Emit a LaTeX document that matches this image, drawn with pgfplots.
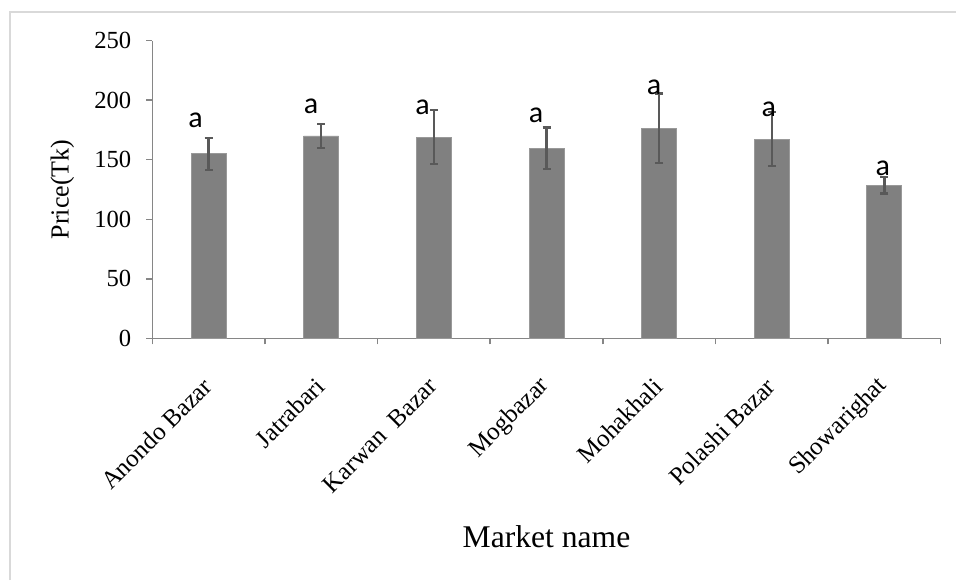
\documentclass[border=0pt]{standalone}
\usepackage{fontspec}
\setmainfont{Liberation Serif}
\newfontfamily\calibri{Carlito}
\usepackage{pgfplots}
\pgfplotsset{compat=1.18}
\definecolor{barfill}{HTML}{808080}
\definecolor{baredge}{HTML}{999999}
\definecolor{errcol}{HTML}{595959}
\definecolor{axiscol}{HTML}{868686}
\definecolor{framecol}{HTML}{D9D9D9}

\begin{document}
\begin{tikzpicture}
\useasboundingbox (0,0) rectangle (478pt,290pt);
\fill[white] (0,0) rectangle (478pt,290pt);
\draw[framecol, line width=1pt] (5pt,0) -- (5pt,284pt) -- (478pt,284pt);
\begin{axis}[
  at={(76.15pt,120.85pt)}, anchor=south west,
  scale only axis, width=394.2pt, height=148.8pt,
  xmin=-0.5, xmax=6.5, ymin=0, ymax=250,
  axis x line*=bottom, axis y line*=left,
  axis line style={axiscol, line width=0.75pt},
  ytick={0,50,...,250},
  xtick={0,...,6},
  xticklabels={Anondo Bazar, Jatrabari, Karwan\ \ Bazar, Mogbazar, Mohakhali, Polashi Bazar, Showarighat},
  minor xtick={-0.5,0.5,...,6.5},
  major x tick style={draw=none},
  minor x tick style={axiscol, line width=0.75pt},
  ytick style={axiscol, line width=0.75pt},
  tick align=outside, major tick length=3pt, minor tick length=3pt,
  /pgf/number format/assume math mode=true,
  yticklabel style={font=\fontsize{12.3}{14}\selectfont, xshift=-4pt},
  xticklabel style={font=\fontsize{12.5}{14}\selectfont, xshift=2pt, yshift=-16.5pt, rotate=45, anchor=east},
  xlabel={Market name},
  xlabel style={at={(axis description cs:0.5,-0.667)}, anchor=center, font=\fontsize{15.8}{18}\selectfont},
  ylabel={Price(Tk)},
  ylabel style={at={(axis description cs:-0.1139,0.5)}, anchor=center, font=\fontsize{13}{15}\selectfont},
  ybar, bar width=17.5pt,
]
\addplot[fill=barfill, draw=baredge, line width=0.4pt,
  error bars/.cd, y dir=both, y explicit,
  error bar style={errcol, line width=1.2pt},
  error mark options={errcol, line width=1.2pt, mark size=2pt, rotate=90}]
  table[x=x, y=y, y error=e] {
x y     e
0 155   13.5
1 170   10
2 169   22.7
3 159.6 17.5
4 176.5 29.2
5 167.3 22.7
6 128.5 7
};
% significance letters above each bar
\begin{scope}[every node/.style={font=\calibri\fontsize{15}{17}\selectfont, inner sep=0pt}]
\node at (axis cs:-0.115,183) {a};
\node at (axis cs:0.91,194.5) {a};
\node at (axis cs:1.9,194) {a};
\node at (axis cs:2.907,187) {a};
\node at (axis cs:3.955,211) {a};
\node at (axis cs:4.973,192) {a};
\node at (axis cs:5.987,143) {a};
\end{scope}
\end{axis}
\end{tikzpicture}
\end{document}
